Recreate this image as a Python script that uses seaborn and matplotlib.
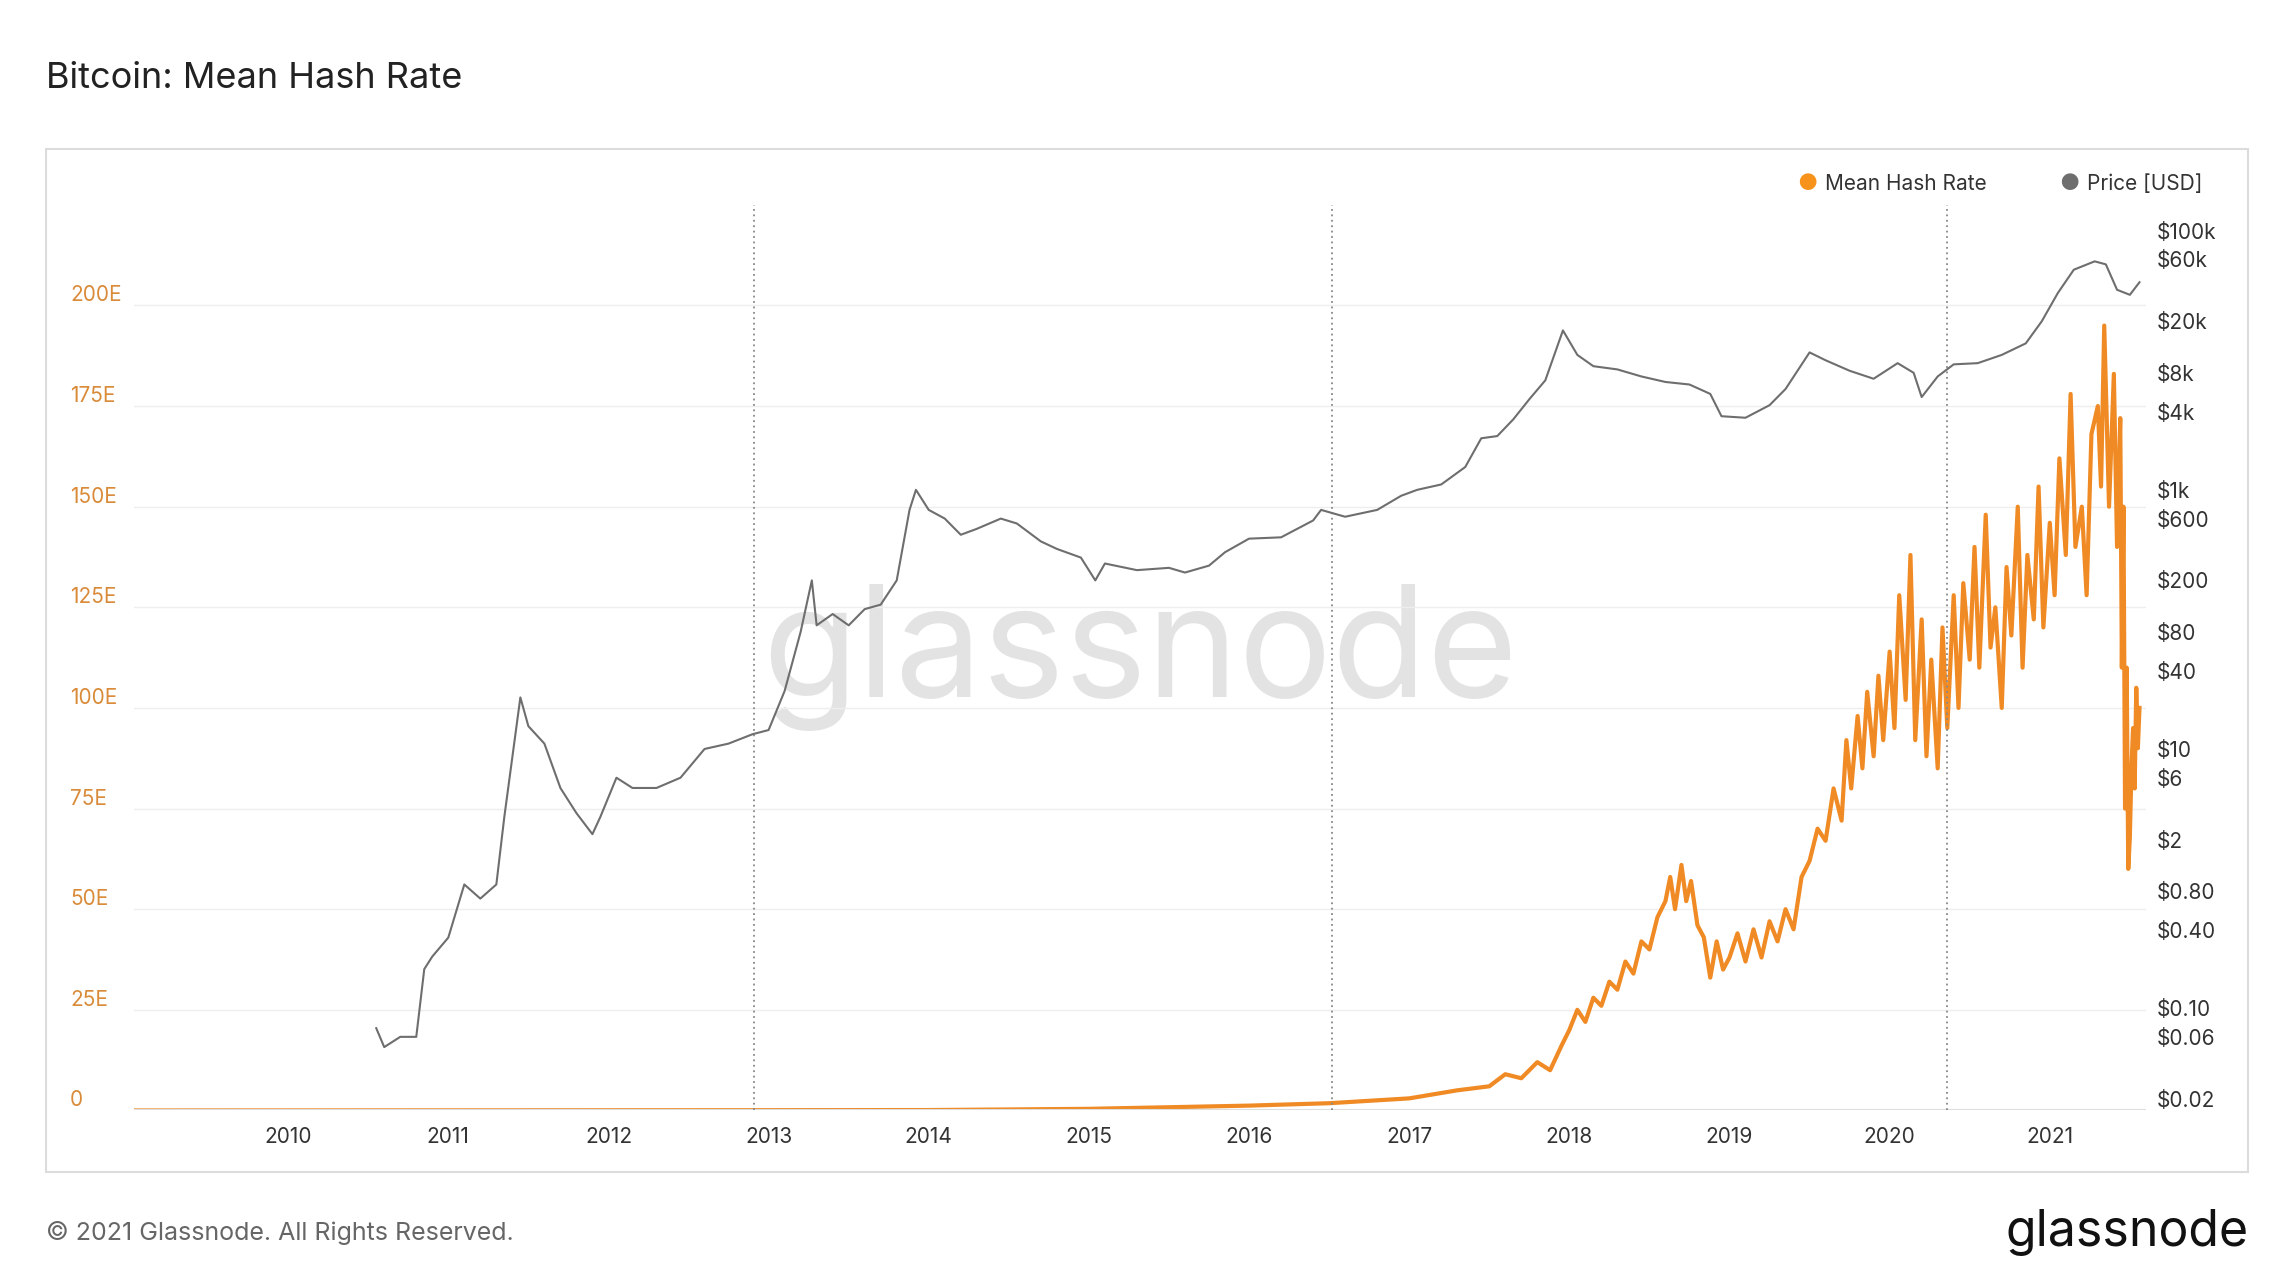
import matplotlib
matplotlib.use("Agg")
import matplotlib.pyplot as plt
import matplotlib.patches as mpatches
import seaborn as sns
import pandas as pd

plt.rcParams["font.family"] = "Inter"

price_years = [2010.55, 2010.6, 2010.7, 2010.8, 2010.85, 2010.9, 2011.0, 2011.1, 2011.2, 2011.3, 2011.35,
               2011.45, 2011.5, 2011.6, 2011.7, 2011.8, 2011.9, 2011.95, 2012.05, 2012.15, 2012.3, 2012.45,
               2012.6, 2012.75, 2012.9, 2013.0, 2013.1, 2013.2, 2013.27, 2013.3, 2013.4, 2013.5, 2013.6,
               2013.7, 2013.8, 2013.88, 2013.92, 2014.0, 2014.1, 2014.2, 2014.3, 2014.45, 2014.55, 2014.7,
               2014.8, 2014.95, 2015.04, 2015.1, 2015.3, 2015.5, 2015.6, 2015.75, 2015.85, 2016.0, 2016.2,
               2016.4, 2016.45, 2016.6, 2016.8, 2016.95, 2017.05, 2017.2, 2017.35, 2017.45, 2017.55, 2017.65,
               2017.75, 2017.85, 2017.96, 2018.05, 2018.15, 2018.3, 2018.45, 2018.6, 2018.75, 2018.88, 2018.95,
               2019.1, 2019.25, 2019.35, 2019.5, 2019.6, 2019.75, 2019.9, 2020.05, 2020.15, 2020.2, 2020.3,
               2020.4, 2020.55, 2020.7, 2020.85, 2020.95, 2021.05, 2021.15, 2021.28, 2021.35, 2021.42,
               2021.5, 2021.56]
price_values = [0.07, 0.05, 0.06, 0.06, 0.2, 0.25, 0.35, 0.9, 0.7, 0.9, 3.0,
                25, 15, 11, 5, 3.2, 2.2, 3.0, 6, 5, 5, 6,
                10, 11, 13, 14, 28, 80, 200, 90, 110, 90, 120,
                130, 200, 700, 1000, 700, 600, 450, 500, 600, 550, 400,
                350, 300, 200, 270, 240, 250, 230, 260, 330, 420, 430,
                580, 700, 620, 700, 900, 1000, 1100, 1500, 2500, 2600, 3500,
                5000, 7000, 17000, 11000, 9000, 8500, 7500, 6800, 6500, 5500, 3700,
                3600, 4500, 6000, 11500, 10000, 8300, 7200, 9500, 8000, 5200, 7500,
                9300, 9500, 11000, 13500, 20000, 33000, 50000, 58000, 55000,
                35000, 32000, 40000]

hash_years = [2009.04, 2012.0, 2014.0, 2015.0, 2016.0, 2016.5, 2017.0, 2017.3, 2017.5, 2017.6, 2017.7,
              2017.8, 2017.88, 2017.95, 2018.0, 2018.05, 2018.1, 2018.15, 2018.2, 2018.25, 2018.3, 2018.35,
              2018.4, 2018.45, 2018.5, 2018.55, 2018.6, 2018.63, 2018.66, 2018.7, 2018.73, 2018.76, 2018.8,
              2018.84, 2018.88, 2018.92, 2018.96, 2019.0, 2019.05, 2019.1, 2019.15, 2019.2, 2019.25, 2019.3,
              2019.35, 2019.4, 2019.45, 2019.5, 2019.55, 2019.6, 2019.65, 2019.7, 2019.73, 2019.76, 2019.8,
              2019.83, 2019.86, 2019.9, 2019.93, 2019.96, 2020.0, 2020.03, 2020.06, 2020.1, 2020.13, 2020.16,
              2020.2, 2020.23, 2020.26, 2020.3, 2020.33, 2020.36, 2020.4, 2020.43, 2020.46, 2020.5, 2020.53,
              2020.56, 2020.6, 2020.63, 2020.66, 2020.7, 2020.73, 2020.76, 2020.8, 2020.83, 2020.86, 2020.9,
              2020.93, 2020.96, 2021.0, 2021.03, 2021.06, 2021.1, 2021.13, 2021.16, 2021.2, 2021.23, 2021.26,
              2021.3, 2021.32, 2021.34, 2021.37, 2021.4, 2021.42, 2021.44, 2021.45, 2021.46, 2021.47, 2021.48,
              2021.49, 2021.5, 2021.51, 2021.52, 2021.53, 2021.54, 2021.55, 2021.56]
hash_values = [0, 0.05, 0.1, 0.4, 1.2, 1.8, 3, 5, 6, 9, 8,
               12, 10, 16, 20, 25, 22, 28, 26, 32, 30, 37,
               34, 42, 40, 48, 52, 58, 50, 61, 52, 57, 46,
               43, 33, 42, 35, 38, 44, 37, 45, 38, 47, 42,
               50, 45, 58, 62, 70, 67, 80, 72, 92, 80, 98,
               85, 104, 88, 108, 92, 114, 95, 128, 102, 138, 92,
               122, 88, 112, 85, 120, 95, 128, 100, 131, 112, 140,
               110, 148, 115, 125, 100, 135, 118, 150, 110, 138, 122,
               155, 120, 146, 128, 162, 138, 178, 140, 150, 128, 168,
               175, 155, 195, 150, 183, 140, 172, 110, 150, 75, 110,
               60, 68, 85, 95, 80, 105, 90, 100]

halvings = [2012.91, 2016.52, 2020.36]
year_ticks = list(range(2010, 2022))
left_ticks = [0, 25, 50, 75, 100, 125, 150, 175, 200]
left_labels = ["0", "25E", "50E", "75E", "100E", "125E", "150E", "175E", "200E"]
right_ticks = [1e5, 6e4, 2e4, 8e3, 4e3, 1e3, 600, 200, 80, 40, 10, 6, 2, 0.8, 0.4, 0.1, 0.06, 0.02]
right_labels = ["$100k", "$60k", "$20k", "$8k", "$4k", "$1k", "$600", "$200", "$80", "$40",
                "$10", "$6", "$2", "$0.80", "$0.40", "$0.10", "$0.06", "$0.02"]

orange = "#f7931a"
orange_line = "#f08a24"
gray = "#6e6e6e"

fig = plt.figure(figsize=(22.78, 12.72), dpi=100)
fig.patches.append(mpatches.Rectangle((0.02, 0.079), 0.967, 0.804, transform=fig.transFigure,
                                      fill=False, edgecolor="#dcdcdc", linewidth=1.5))
ax = fig.add_axes([0.059, 0.127, 0.883, 0.712])
hdf = pd.DataFrame({"year": hash_years, "hash": hash_values})
sns.lineplot(data=hdf, x="year", y="hash", ax=ax, color=orange_line, linewidth=3)
ax.set_xlim(2009.04, 2021.6)
ax.set_ylim(0, 225)
ax.set_yticks(left_ticks)
ax.set_yticklabels(left_labels, color="#d98b3a", fontsize=15)
ax.yaxis.set_tick_params(length=0, pad=0)
for lab in ax.get_yticklabels():
    lab.set_horizontalalignment("left")
    lab.set_x(-0.032)
    lab.set_verticalalignment("bottom")
ax.set_xticks(year_ticks)
ax.set_xticklabels([str(y) for y in year_ticks], fontsize=15, color="#333333")
ax.xaxis.set_tick_params(length=0, pad=12)
ax.grid(axis="y", color="#eeeeee", linewidth=1)
for sp in ax.spines.values():
    sp.set_visible(False)
ax.axhline(0, color="#dddddd", linewidth=1.5)
for h in halvings:
    ax.axvline(h, color="#888888", linestyle=(0, (1, 2)), linewidth=1.3)
ax.set_xlabel("")
ax.set_ylabel("")

ax2 = ax.twinx()
pdf = pd.DataFrame({"year": price_years, "price": price_values})
sns.lineplot(data=pdf, x="year", y="price", ax=ax2, color=gray, linewidth=1.5)
ax2.set_yscale("log")
ax2.set_ylim(10 ** -1.79, 10 ** 5.2)
ax2.set_yticks(right_ticks)
ax2.set_yticklabels(right_labels, fontsize=15, color="#333333")
ax2.minorticks_off()
ax2.yaxis.set_tick_params(length=0, pad=8)
ax2.set_ylabel("")
for sp in ax2.spines.values():
    sp.set_visible(False)

ax.text(0.5, 0.5, "glassnode", transform=ax.transAxes, fontsize=112, color="#dddddd",
        ha="center", va="center", alpha=0.8, zorder=0)

fig.text(0.02, 0.938, "Bitcoin: Mean Hash Rate", fontsize=26, color="#222222", va="center")
fig.text(0.02, 0.031, "© 2021 Glassnode. All Rights Reserved.", fontsize=18, color="#666666", va="center")
fig.text(0.987, 0.031, "glassnode", fontsize=36, color="#111111", va="center", ha="right")

fig.text(0.789, 0.855, "●", color=orange, fontsize=16, va="center")
fig.text(0.801, 0.855, "Mean Hash Rate", color="#333333", fontsize=15, va="center")
fig.text(0.904, 0.855, "●", color=gray, fontsize=16, va="center")
fig.text(0.916, 0.855, "Price [USD]", color="#333333", fontsize=15, va="center")

fig.savefig("out.png", dpi=100, facecolor="white")
